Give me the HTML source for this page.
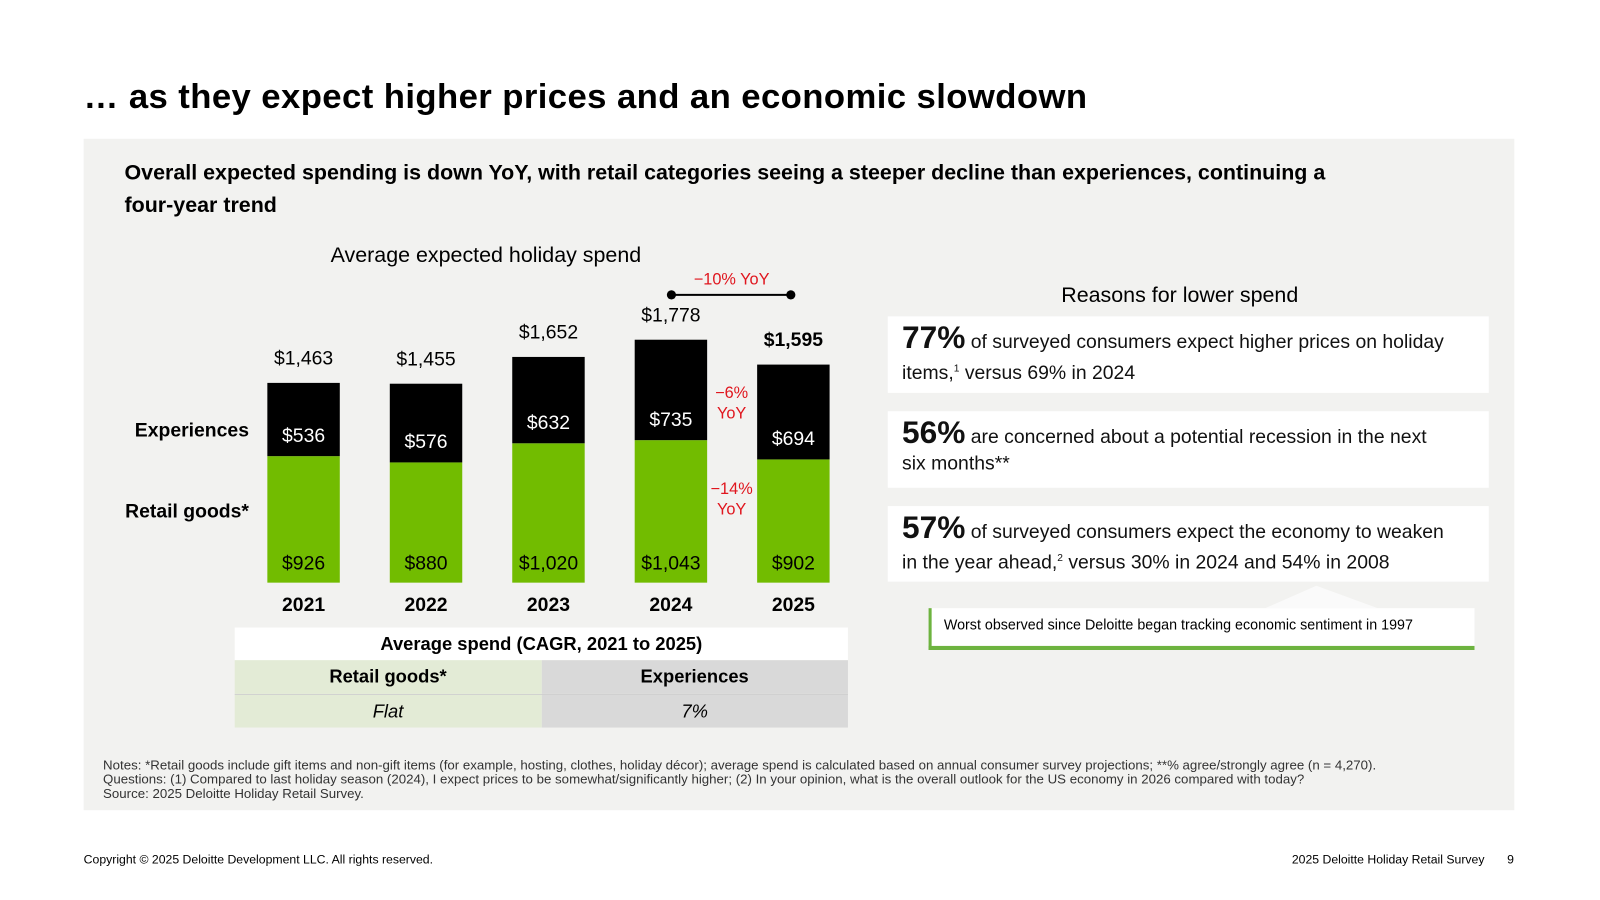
<!DOCTYPE html>
<html><head><meta charset="utf-8"><style>
body{margin:0;width:1600px;height:900px;overflow:hidden;background:#fff;font-family:"Liberation Sans",sans-serif;}
#w{position:absolute;left:0;top:0;width:1568px;height:882px;transform:scale(1.020408);transform-origin:0 0;}
.a{position:absolute;}
.box{position:absolute;left:870px;width:589px;background:#fff;}
.box .t{position:absolute;left:14px;top:8px;right:24px;font-size:19px;line-height:26px;color:#111;}
.box b{font-size:31px;}
</style></head><body><div id="w">
<div class="a" style="left:82px;top:76px;font-size:34px;letter-spacing:0.4px;font-weight:bold;">… as they expect higher prices and an economic slowdown</div>
<div class="a" style="left:82px;top:136px;width:1402px;height:658px;background:#f2f2f0;"></div>
<div class="a" style="left:122px;top:154px;width:1250px;font-size:21px;font-weight:bold;line-height:32px;">Overall expected spending is down YoY, with retail categories seeing a steeper decline than experiences, continuing a four&#8209;year trend</div>
<div class="a" style="left:324px;top:239px;font-size:21px;">Average expected holiday spend</div>
<svg class="a" style="left:0;top:0" width="860" height="620" id="chart"></svg>
<div class="a" style="left:230px;top:615px;width:601px;font-size:18px;text-align:center;">
<div style="height:32px;line-height:32px;background:#fff;font-weight:bold;">Average spend (CAGR, 2021 to 2025)</div>
<div style="display:flex;height:33px;line-height:33px;font-weight:bold;"><div style="flex:1;background:#e3ebd6;">Retail goods*</div><div style="flex:1;background:#d9d9d9;">Experiences</div></div>
<div style="display:flex;height:32px;line-height:32px;font-style:italic;border-top:1px solid #ccc;"><div style="flex:1;background:#e3ebd6;">Flat</div><div style="flex:1;background:#d9d9d9;">7%</div></div>
</div>
<div class="a" style="left:1040px;top:278px;font-size:21px;">Reasons for lower spend</div>
<div class="box" style="top:310px;height:75px;"><div class="t"><b>77%</b> of surveyed consumers expect higher prices on holiday items,<sup style="font-size:10px">1</sup> versus 69% in 2024</div></div>
<div class="box" style="top:403px;height:75px;"><div class="t" style="right:50px"><b>56%</b> are concerned about a potential recession in the next six months**</div></div>
<div class="box" style="top:496px;height:74px;"><div class="t"><b>57%</b> of surveyed consumers expect the economy to weaken in the year ahead,<sup style="font-size:10px">2</sup> versus 30% in 2024 and 54% in 2008</div></div>
<svg class="a" style="left:1240px;top:570px" width="110" height="26"><polygon points="0,26 50,4 110,26" fill="#fafafa"/></svg>
<div class="a" style="left:910px;top:596px;width:520px;height:37px;background:#fff;border-left:3px solid #6db33f;border-bottom:4px solid #6db33f;font-size:14px;line-height:32px;padding-left:12px;box-sizing:content-box;">Worst observed since Deloitte began tracking economic sentiment in 1997</div>
<div class="a" style="left:101px;top:743px;font-size:13px;line-height:14px;color:#333;white-space:nowrap;">Notes: *Retail goods include gift items and non-gift items (for example, hosting, clothes, holiday décor); average spend is calculated based on annual consumer survey projections; **% agree/strongly agree (n = 4,270).<br>Questions: (1) Compared to last holiday season (2024), I expect prices to be somewhat/significantly higher; (2) In your opinion, what is the overall outlook for the US economy in 2026 compared with today?<br>Source: 2025 Deloitte Holiday Retail Survey.</div>
<div class="a" style="left:82px;top:835px;font-size:12px;">Copyright © 2025 Deloitte Development LLC. All rights reserved.</div>
<div class="a" style="left:1266px;top:835px;font-size:12px;">2025 Deloitte Holiday Retail Survey</div>
<div class="a" style="left:1477px;top:835px;font-size:12px;">9</div>
</div>
<script>
const years=["2021","2022","2023","2024","2025"];
const retail=[926,880,1020,1043,902];
const experiences=[536,576,632,735,694];
const totals=["$1,463","$1,455","$1,652","$1,778","$1,595"];
const svg=document.getElementById('chart');
const NS="http://www.w3.org/2000/svg";
const base=571,k=0.1339,x0=262,step=120,bw=71;
const y=v=>base-v*k;
const xb=i=>x0+i*step;
function mk(tag,at,txt){const e=document.createElementNS(NS,tag);for(const a in at)e.setAttribute(a,at[a]);if(txt!=null)e.textContent=txt;svg.appendChild(e);return e;}
const fmt=v=>"$"+v.toLocaleString('en-US');
const ff='"Liberation Sans",sans-serif';
years.forEach((yr,i)=>{
 const r=mk('rect',{x:xb(i),y:y(retail[i]),width:bw,height:retail[i]*k,fill:'#72bc00'});
 
 
 const tot=retail[i]+experiences[i];
 const e=mk('rect',{x:xb(i),y:y(tot),width:bw,height:experiences[i]*k,fill:'#000'});
 
 
 mk('text',{x:xb(i)+bw/2,y:base-13,'text-anchor':'middle','font-size':19,fill:'#000','font-family':ff},fmt(retail[i]));
 mk('text',{x:xb(i)+bw/2,y:y(retail[i])-14,'text-anchor':'middle','font-size':19,fill:'#fff','font-family':ff},fmt(experiences[i]));
 mk('text',{x:xb(i)+bw/2,y:y(tot)-18,'text-anchor':'middle','font-size':19,fill:'#000','font-weight':i==4?'bold':'normal','font-family':ff},totals[i]);
 mk('text',{x:xb(i)+bw/2,y:599,'text-anchor':'middle','font-size':19,'font-weight':'bold','font-family':ff},yr);
});
mk('text',{x:244,y:428,'text-anchor':'end','font-size':19,'font-weight':'bold','font-family':ff},'Experiences');
mk('text',{x:244,y:507,'text-anchor':'end','font-size':19,'font-weight':'bold','font-family':ff},'Retail goods*');
mk('line',{x1:658,y1:289,x2:775,y2:289,stroke:'#000','stroke-width':2});
mk('circle',{cx:658,cy:289,r:4.5});mk('circle',{cx:775,cy:289,r:4.5});
mk('text',{x:717,y:279,'text-anchor':'middle','font-size':16,fill:'#e0161e','font-family':ff},'−10% YoY');
mk('text',{x:717,y:390,'text-anchor':'middle','font-size':16,fill:'#e0161e','font-family':ff},'−6%');
mk('text',{x:717,y:410,'text-anchor':'middle','font-size':16,fill:'#e0161e','font-family':ff},'YoY');
mk('text',{x:717,y:484,'text-anchor':'middle','font-size':16,fill:'#e0161e','font-family':ff},'−14%');
mk('text',{x:717,y:504,'text-anchor':'middle','font-size':16,fill:'#e0161e','font-family':ff},'YoY');
</script>
</body></html>
